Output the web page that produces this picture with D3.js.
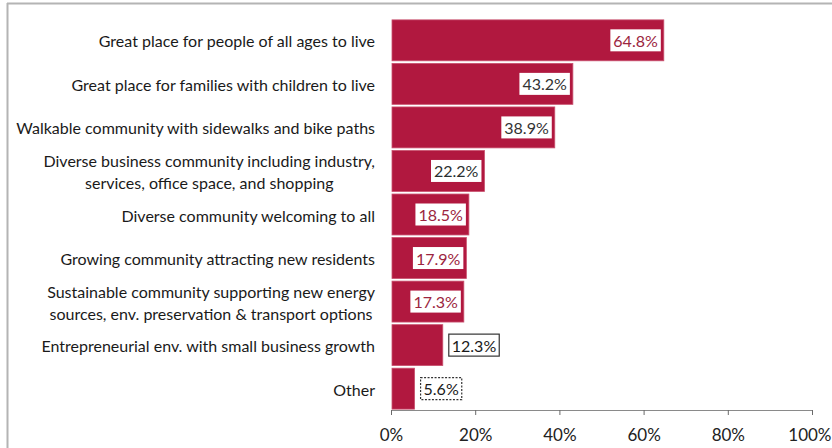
<!DOCTYPE html>
<html>
<head>
<meta charset="utf-8">
<script src="https://cdn.jsdelivr.net/npm/d3@7"></script>
<style>
  body { margin: 0; background: #fff; }
  svg { display: block; }
</style>
</head>
<body>
<div id="chart"></div>
<script>
// categories (multi-line labels split with "\n")
const categories = [
  "Great place for people of all ages to live",
  "Great place for families with children to live",
  "Walkable community with sidewalks and bike paths",
  "Diverse business community including industry,\nservices, office space, and shopping",
  "Diverse community welcoming to all",
  "Growing community attracting new residents",
  "Sustainable community supporting new energy\nsources, env. preservation & transport options",
  "Entrepreneurial env. with small business growth",
  "Other"
];
const values = [64.8, 43.2, 38.9, 22.2, 18.5, 17.9, 17.3, 12.3, 5.6];
const tickValues = [0, 20, 40, 60, 80, 100];

const width = 832, height = 448;
const margin = {top: 19, right: 20, bottom: 38, left: 391};
const barColor = "#b1183f";
const font = "Lato, 'Open Sans', sans-serif";

const data = categories.map((c, i) => ({name: c, value: values[i], i}));

const svg = d3.select("#chart").append("svg")
    .attr("width", width)
    .attr("height", height)
    .style("font-family", font);

// frame (top and left edges of the scanned box)
svg.append("line")
    .attr("x1", 7).attr("x2", width).attr("y1", 3.5).attr("y2", 3.5)
    .attr("stroke", "#b4b4b4").attr("stroke-width", 2);
svg.append("line")
    .attr("x1", 7.5).attr("x2", 7.5).attr("y1", 3).attr("y2", height)
    .attr("stroke", "#b4b4b4").attr("stroke-width", 2);

const x = d3.scaleLinear()
    .domain([0, 100])
    .range([margin.left, width - margin.right]);

const y = d3.scaleBand()
    .domain(data.map(d => d.i))
    .range([margin.top, height - margin.bottom])
    .paddingInner(0.06)
    .paddingOuter(0.02);

// bars
svg.append("g")
  .selectAll("rect")
  .data(data)
  .join("rect")
    .attr("x", x(0) + 1)
    .attr("y", d => y(d.i))
    .attr("width", d => x(d.value) - x(0) - 1)
    .attr("height", y.bandwidth())
    .attr("fill", barColor)
    .attr("stroke", "#c9506e")
    .attr("stroke-width", 0.8);

// x-axis
const xAxis = svg.append("g")
    .attr("transform", `translate(0,${height - margin.bottom})`)
    .call(d3.axisBottom(x).tickValues(tickValues).tickFormat(d => d + "%").tickSize(5).tickSizeOuter(0));
xAxis.select(".domain").attr("stroke", "#8a8a8a");
xAxis.selectAll(".tick line").attr("stroke", "#6a6a6a");
xAxis.selectAll(".tick text")
    .attr("y", 19)
    .attr("font-family", font)
    .attr("font-size", 17)
    .attr("fill", "#222");
// last label sits against the right edge
xAxis.selectAll(".tick text").filter(d => d === 100)
    .attr("text-anchor", "end")
    .attr("x", width - 1 - x(100));

// category labels
const labelRight = margin.left - 16;
const labels = svg.append("g")
    .attr("font-size", 16)
    .attr("fill", "#1a1a1a");

data.forEach(d => {
  const lines = d.name.split("\n");
  const cy = y(d.i) + y.bandwidth() / 2;
  const t = labels.append("text")
      .attr("dominant-baseline", "central");
  lines.forEach((line, k) => {
    t.append("tspan")
      .attr("y", cy + (k - (lines.length - 1) / 2) * 22)
      .text(line);
  });
  if (lines.length === 1) {
    t.attr("text-anchor", "end").selectAll("tspan").attr("x", labelRight);
  } else {
    const w = d3.max(t.selectAll("tspan").nodes(), n => n.getComputedTextLength());
    t.attr("text-anchor", "middle").selectAll("tspan").attr("x", labelRight - w / 2);
  }
});

// value labels
const inside = d => d.value > 15;
const valueColor = ["#9c2540", "#333", "#333", "#2a2f2f", "#9c2540", "#9c2540", "#9c2540", "#1a1a1a", "#1a1a1a"];
const vl = svg.append("g").attr("font-size", 16);

data.forEach(d => {
  const cy = y(d.i) + y.bandwidth() / 2;
  const g = vl.append("g");
  const t = g.append("text")
      .attr("dominant-baseline", "central")
      .attr("fill", valueColor[d.i])
      .attr("y", cy)
      .text(d.value.toFixed(1) + "%");
  const w = t.node().getComputedTextLength();
  const pad = 3, h = 22;
  const bx = inside(d) ? x(d.value) - 3 - w - 2 * pad : x(d.value) + 6;
  t.attr("x", bx + pad);
  g.insert("rect", "text")
      .attr("x", bx)
      .attr("y", cy - h / 2)
      .attr("width", w + 2 * pad)
      .attr("height", h)
      .attr("fill", "#fff")
      .attr("stroke", inside(d) ? "none" : "#333")
      .attr("stroke-width", 1.2)
      .attr("stroke-dasharray", d.i === 8 ? "2,1.5" : null);
});
</script>
</body>
</html>
